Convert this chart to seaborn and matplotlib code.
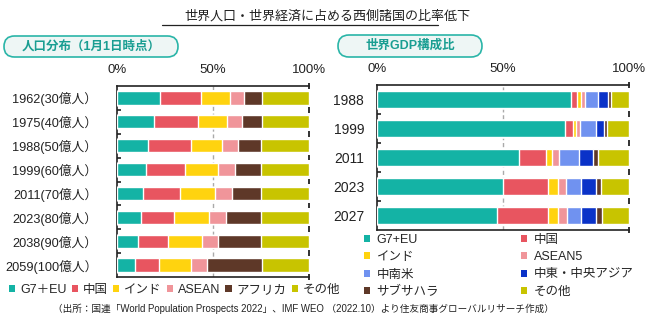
import matplotlib
matplotlib.use("Agg")
import matplotlib.pyplot as plt
import seaborn as sns
import pandas as pd
import numpy as np
from matplotlib.patches import FancyBboxPatch, Patch
from matplotlib.lines import Line2D

sns.set_theme(style="white")
plt.rcParams['font.family'] = ['Liberation Sans', 'Noto Sans CJK JP', 'DejaVu Sans']

# ---------------- data ----------------
pop_labels = ["1962(30億人）", "1975(40億人）", "1988(50億人）", "1999(60億人）",
              "2011(70億人）", "2023(80億人）", "2038(90億人）", "2059(100億人）"]
pop_series = ["G7＋EU", "中国", "インド", "ASEAN", "アフリカ", "その他"]
pop_g7 = [22.5, 19.6, 16.4, 15.1, 13.5, 12.6, 11.2, 9.7]
pop_china = [21.3, 22.4, 22.0, 20.5, 19.4, 17.3, 15.3, 12.1]
pop_india = [14.8, 15.4, 16.4, 17.2, 18.0, 18.2, 17.8, 17.0]
pop_asean = [7.3, 7.6, 8.3, 8.8, 8.8, 8.8, 8.5, 8.3]
pop_africa = [9.5, 10.2, 11.6, 13.1, 15.0, 17.8, 21.9, 28.2]
pop_other = [24.6, 24.7, 25.3, 25.3, 25.3, 25.3, 25.3, 24.7]

gdp_labels = ["1988", "1999", "2011", "2023", "2027"]
gdp_series = ["G7+EU", "中国", "インド", "ASEAN5", "中南米", "中東・中央アジア", "サブサハラ", "その他"]
gdp_g7 = [77.0, 74.4, 56.5, 50.1, 47.8]
gdp_china = [2.3, 3.3, 10.5, 17.8, 20.0]
gdp_india = [1.6, 1.2, 2.4, 4.0, 4.1]
gdp_asean5 = [1.6, 1.7, 2.8, 3.2, 3.6]
gdp_latam = [5.0, 6.2, 7.9, 5.6, 5.2]
gdp_mecentral = [3.9, 3.2, 5.4, 6.0, 6.2]
gdp_subsahara = [1.5, 1.3, 2.0, 2.2, 2.3]
gdp_other = [7.1, 8.7, 12.5, 11.1, 10.8]

x_ticks = [0, 50, 100]
x_ticklabels = ["0%", "50%", "100%"]

title = "世界人口・世界経済に占める西側諸国の比率低下"
left_header = "人口分布（1月1日時点）"
right_header = "世界GDP構成比"
source = "（出所：国連「World Population Prospects 2022」、IMF WEO （2022.10）より住友商事グローバルリサーチ作成）"

# ---------------- colours ----------------
C_TEAL = "#14b3a5"
C_RED = "#e85560"
C_YEL = "#ffd30f"
C_PINK = "#f0959a"
C_BROWN = "#5e3828"
C_OLIVE = "#c8c400"
C_LBLUE = "#7092f0"
C_BLUE = "#0a32c8"

pop_colors = [C_TEAL, C_RED, C_YEL, C_PINK, C_BROWN, C_OLIVE]
gdp_colors = [C_TEAL, C_RED, C_YEL, C_PINK, C_LBLUE, C_BLUE, C_BROWN, C_OLIVE]

pop_df = pd.DataFrame(dict(zip(pop_series, [pop_g7, pop_china, pop_india, pop_asean, pop_africa, pop_other])),
                      index=pop_labels)
gdp_df = pd.DataFrame(dict(zip(gdp_series, [gdp_g7, gdp_china, gdp_india, gdp_asean5, gdp_latam,
                                            gdp_mecentral, gdp_subsahara, gdp_other])),
                      index=gdp_labels)

fig = plt.figure(figsize=(6.54, 3.26), dpi=100)
W, H = 654, 326

def px_axes(x0, y0, x1, y1):
    return fig.add_axes([x0 / W, 1 - y1 / H, (x1 - x0) / W, (y1 - y0) / H])

ax1 = px_axes(116.7, 86, 309.3, 277)
ax2 = px_axes(376.7, 85, 629.3, 230)


def stacked(ax, df, colors, ylabelpad, ylabelsize):
    cum = df.cumsum(axis=1)
    cols = list(df.columns)
    for i in range(len(cols) - 1, -1, -1):
        d = pd.DataFrame({"cat": df.index, "val": cum[cols[i]].values})
        sns.barplot(data=d, y="cat", x="val", orient="h", color=colors[i], width=0.56,
                    edgecolor="white", linewidth=1.0, saturation=1, ax=ax, zorder=3 + (len(cols) - i))
    n = len(df)
    ax.set_xlim(0, 100)
    ax.set_ylim(n - 0.5, -0.5)
    ax.set_xlabel("")
    ax.set_ylabel("")
    ax.xaxis.tick_top()
    ax.set_xticks(x_ticks)
    ax.set_xticklabels(x_ticklabels, fontsize=9.5, color="#222222")
    ax.tick_params(axis="x", length=0, pad=7)
    ax.tick_params(axis="y", length=0, pad=ylabelpad, labelsize=ylabelsize, labelcolor="#222222")
    ax.axvline(50, color="#aaaaaa", lw=1, ls=(0, (3, 2)), zorder=1)
    for s in ["top", "bottom", "left"]:
        ax.spines[s].set_visible(True)
        ax.spines[s].set_color("#222222")
        ax.spines[s].set_linewidth(1.2)
    ax.spines["right"].set_visible(False)
    bounds = np.arange(n + 1) - 0.5
    ax.set_yticks(bounds[1:-1], minor=True)
    ax.tick_params(axis="y", which="minor", direction="in", length=3, width=1.2, color="#222222", left=True)
    tr = ax.get_yaxis_transform()
    for b in bounds:
        ax.plot([1, 1], [b - 0.12, b + 0.12], transform=tr, color="#222222", lw=1.3,
                clip_on=False, zorder=10, solid_capstyle="butt")


stacked(ax1, pop_df, pop_colors, 14, 9.2)
stacked(ax2, gdp_df, gdp_colors, 9, 10)

# ---------------- title ----------------
fig.text(0.5, 1 - 16 / H, title, ha="center", va="center", fontsize=9.4, color="#222222")
fig.add_artist(Line2D([162 / W, 438 / W], [1 - 25 / H, 1 - 25 / H], color="#222222", lw=0.9))

# ---------------- header pills ----------------
def pill(x0, y0, x1, y1, text):
    r = (y1 - y0) / 2 / W
    box = FancyBboxPatch((x0 / W, 1 - y1 / H), (x1 - x0) / W, (y1 - y0) / H,
                         boxstyle=f"round,pad=0,rounding_size={r}", transform=fig.transFigure,
                         facecolor="#eef6f5", edgecolor="#2ab5a8", lw=1.2, mutation_aspect=W / H)
    fig.add_artist(box)
    fig.text((x0 + x1) / 2 / W, 1 - (y0 + y1) / 2 / H, text, ha="center", va="center",
             fontsize=9, fontweight="bold", color="#1a9e92")

pill(4, 36, 178, 57, left_header)
pill(338, 35, 482, 57, right_header)

# ---------------- legends ----------------
h1 = [Patch(facecolor=c, edgecolor="none") for c in pop_colors]
fig.legend(h1, pop_series, loc="center left", bbox_to_anchor=(9 / W, 1 - 290 / H), ncol=6,
           frameon=False, fontsize=9, handlelength=0.5, handleheight=0.5, handletextpad=0.4,
           columnspacing=0.4, borderaxespad=0, borderpad=0)

h2 = [Patch(facecolor=c, edgecolor="none") for c in gdp_colors]
leg_kw = dict(loc="upper left", ncol=1, frameon=False, fontsize=9, handlelength=0.5,
              handleheight=0.5, handletextpad=0.5, labelspacing=0.42, borderaxespad=0, borderpad=0)
col1 = [0, 2, 4, 6]
col2 = [1, 3, 5, 7]
fig.legend([h2[i] for i in col1], [gdp_series[i] for i in col1],
           bbox_to_anchor=(364 / W, 1 - 234 / H), **leg_kw)
fig.legend([h2[i] for i in col2], [gdp_series[i] for i in col2],
           bbox_to_anchor=(521 / W, 1 - 234 / H), **leg_kw)

# ---------------- source ----------------
fig.text(53 / W, 1 - 309 / H, source, ha="left", va="center", fontsize=6.9, color="#222222")

fig.savefig("out.png", dpi=100)
